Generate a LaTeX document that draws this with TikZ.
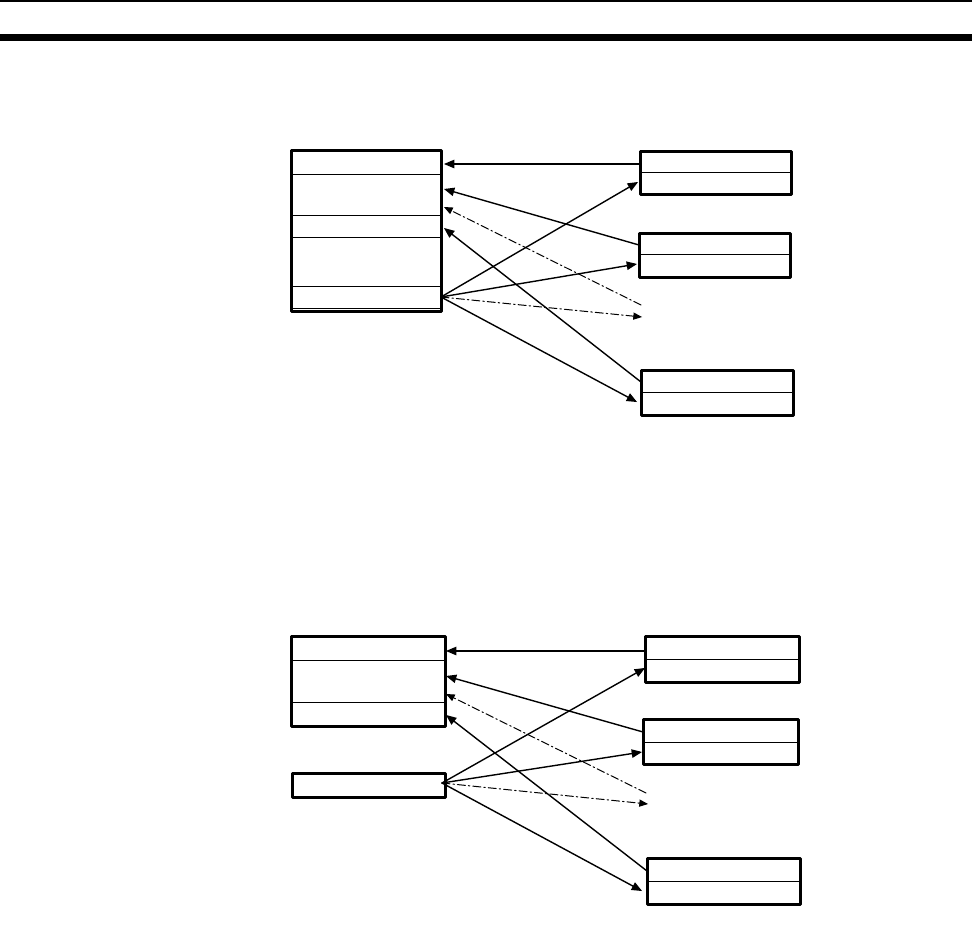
\documentclass[tikz,border=0pt]{standalone}
\usepackage{tkz-euclide}
\usetikzlibrary{arrows,calc}
\tikzset{dashdot/.style={dash pattern=on 8pt off 3pt on 1.5pt off 3pt}}

\begin{document}
\begin{tikzpicture}[x=1pt,y=-1pt,>=triangle 45]
\useasboundingbox (0,0) rectangle (972,934);
\tkzSetUpLine[line width=1.4pt,color=black]

% header rules
\tkzDefPoints{0/1/H1,972/1/H2,0/38/H3,972/38/H4}
\tkzDrawSegment[line width=2pt](H1,H2)
\tkzDrawSegment[line width=7pt](H3,H4)

% upper diagram: boxes
\tkzDefPoints{291/150/TLa,441/150/TLb,441/311/TLc,291/311/TLd}
\tkzDefPoints{291/174/TLe,441/174/TLf,291/215.5/TLg,441/215.5/TLh,291/237/TLi,441/237/TLj,
  291/286/TLk,441/286/TLl,291/308/TLm,441/308/TLn}
\tkzDefPoints{640/151/TAa,791/151/TAb,791/194/TAc,640/194/TAd,640/172/TAe,791/172/TAf}
\tkzDefPoints{639/233/TBa,790/233/TBb,790/277/TBc,639/277/TBd,639/254/TBe,790/254/TBf}
\tkzDefPoints{641/370/TCa,793/370/TCb,793/415/TCc,641/415/TCd,641/392/TCe,793/392/TCf}

\tkzDrawPolygon[line width=3pt](TLa,TLb,TLc,TLd)
\tkzDrawPolygon[line width=3pt](TAa,TAb,TAc,TAd)
\tkzDrawPolygon[line width=3pt](TBa,TBb,TBc,TBd)
\tkzDrawPolygon[line width=3pt](TCa,TCb,TCc,TCd)
\tkzDrawSegments[line width=.9pt](TLe,TLf TLg,TLh TLi,TLj TLk,TLl TLm,TLn TAe,TAf TBe,TBf TCe,TCf)

% upper diagram: connectors
\tkzDefPoints{441/297/TS,444/164/TP1,444/189/TP2,444/207/TP3,444/228/TP4}
\tkzDefPoints{640/164/TQ1,639/245/TQ2,641/305/TQ3,641/382/TQ4}
\tkzDefPoints{638/182/TU1,637/264/TU2,642/317/TU3,637/402/TU4}

\tkzDrawSegments[->](TQ1,TP1 TQ2,TP2 TQ4,TP4 TS,TU1 TS,TU2 TS,TU4)
\tkzDrawSegments[->,line width=1pt,dashdot](TQ3,TP3 TS,TU3)

% lower diagram: boxes
\tkzDefPoints{291/636/BLa,445/636/BLb,445/726/BLc,291/726/BLd}
\tkzDefPoints{291/660.5/BLe,445/660.5/BLf,291/702/BLg,445/702/BLh}
\tkzDefPoints{292/773/BMa,445/773/BMb,445/797/BMc,292/797/BMd}
\tkzDefPoints{645/636/BAa,799/636/BAb,799/682/BAc,645/682/BAd,645/659/BAe,799/659/BAf}
\tkzDefPoints{643/719/BBa,798/719/BBb,798/764/BBc,643/764/BBd,643/742/BBe,798/742/BBf}
\tkzDefPoints{647/858/BCa,800/858/BCb,800/904/BCc,647/904/BCd,647/881/BCe,800/881/BCf}

\tkzDrawPolygon[line width=3pt](BLa,BLb,BLc,BLd)
\tkzDrawPolygon[line width=3pt](BMa,BMb,BMc,BMd)
\tkzDrawPolygon[line width=3pt](BAa,BAb,BAc,BAd)
\tkzDrawPolygon[line width=3pt](BBa,BBb,BBc,BBd)
\tkzDrawPolygon[line width=3pt](BCa,BCb,BCc,BCd)
\tkzDrawSegments[line width=.9pt](BLe,BLf BLg,BLh BAe,BAf BBe,BBf BCe,BCf)

% lower diagram: connectors
\tkzDefPoints{442/783/BS,446/651/BP1,446/676/BP2,446/694/BP3,446/715/BP4}
\tkzDefPoints{645/651/BQ1,643/732/BQ2,646/793/BQ3,647/871/BQ4}
\tkzDefPoints{645/668/BU1,642/752/BU2,648/804/BU3,642/891/BU4}

\tkzDrawSegments[->](BQ1,BP1 BQ2,BP2 BQ4,BP4 BS,BU1 BS,BU2 BS,BU4)
\tkzDrawSegments[->,line width=1pt,dashdot](BQ3,BP3 BS,BU3)

\end{tikzpicture}
\end{document}
